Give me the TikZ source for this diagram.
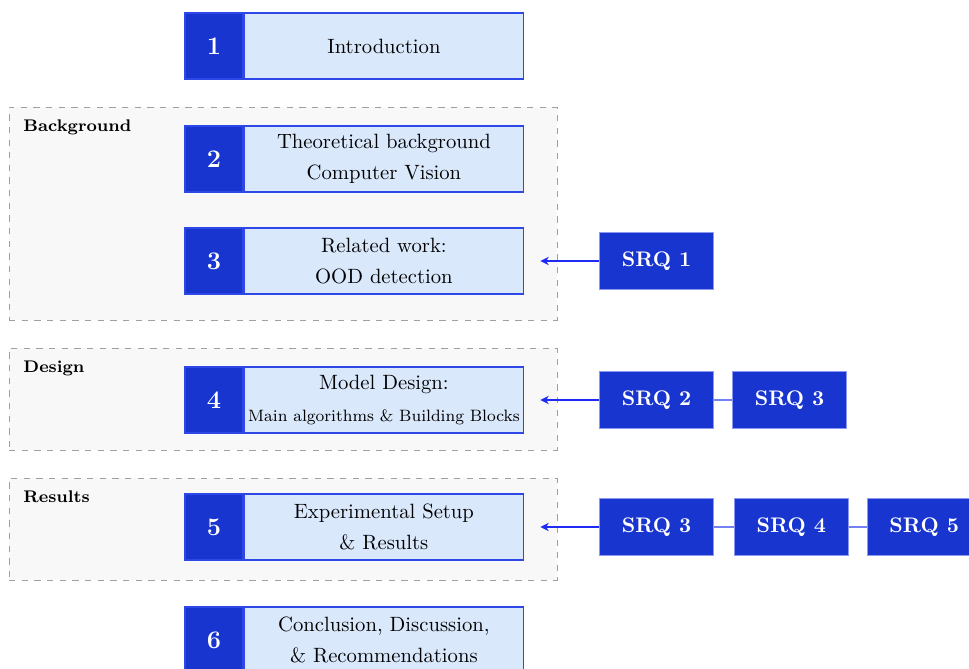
\documentclass[tikz,border=0pt]{standalone}
\usepackage{xcolor}
\usetikzlibrary{positioning,arrows.meta,fit}

\definecolor{chapblue}{HTML}{1835D0}
\definecolor{chapfill}{HTML}{DAE8FC}
\definecolor{chapedge}{HTML}{2D48E6}
\definecolor{srqedge}{HTML}{8C98F2}
\definecolor{linkblue}{HTML}{7382F0}
\definecolor{arrowblue}{HTML}{1F2BF5}
\definecolor{groupfill}{HTML}{F8F8F8}
\definecolor{groupedge}{HTML}{A0A0A0}

\begin{document}
\begin{tikzpicture}[
  x=0.016667cm, y=-0.016667cm,
  >={Stealth[length=4pt,width=4pt]},
  node distance=0.3cm,
  num/.style={draw=chapedge, fill=chapblue, text=white, font=\large\bfseries, minimum width=0.967cm, minimum height=1.1cm, inner sep=0pt, line width=0.6pt},
  chap/.style={draw=chapedge, fill=chapfill, line width=0.7pt, minimum width=4.65cm, minimum height=1.1cm, inner sep=0pt, align=center, font=\fontsize{9.8}{15}\selectfont},
  srq/.style={draw=srqedge, fill=chapblue, text=white, font=\bfseries, minimum width=1.9cm, minimum height=0.95cm, inner sep=0pt, line width=0.4pt},
  group/.style={draw=groupedge, dashed, fill=groupfill, line width=0.4pt, inner sep=0pt},
  grouplabel/.style={anchor=west, font=\footnotesize\bfseries, inner sep=0pt},
  feed/.style={->, draw=arrowblue, line width=0.5pt},
  link/.style={draw=linkblue, line width=0.8pt},
]
\clip (0,0) rectangle (969,669);

% groups
\node[group, fit={(9,107) (557,320)}] (bggroup) {};
\node[group, fit={(9,348) (557,450)}] (dsgroup) {};
\node[group, fit={(9,478) (557,580)}] (resgroup) {};
\node[grouplabel] (bglabel) at (23,127) {Background};
\node[grouplabel] (dslabel) at (23,368) {Design};
\node[grouplabel] (reslabel) at (23,497) {Results};

% chapters
\node[num] (n1) at (214,46) {1};
\node[chap, right=0pt of n1] (c1) {Introduction};
\node[num] (n2) at (214,159) {2};
\node[chap, right=0pt of n2] (c2) {Theoretical background\\Computer Vision};
\node[num] (n3) at (214,261) {3};
\node[chap, right=0pt of n3] (c3) {Related work:\\OOD detection};
\node[num] (n4) at (214,400) {4};
\node[chap, right=0pt of n4] (c4) {Model Design:\\{\fontsize{7.8}{15}\selectfont Main algorithms \& Building Blocks}};
\node[num] (n5) at (214,527) {5};
\node[chap, right=0pt of n5] (c5) {Experimental Setup\\\& Results};
\node[num] (n6) at (214,640) {6};
\node[chap, right=0pt of n6] (c6) {Conclusion, Discussion,\\\& Recommendations};

% sub research questions
\node[srq, right=1.25cm of c3] (q1) {SRQ 1};
\node[srq, right=1.25cm of c4] (q2) {SRQ 2};
\node[srq, right=of q2] (q3a) {SRQ 3};
\node[srq, right=1.25cm of c5] (q3b) {SRQ 3};
\node[srq, right=0.33cm of q3b] (q4) {SRQ 4};
\node[srq, right=of q4] (q5) {SRQ 5};

\coordinate[right=0.27cm of c3] (t3);
\coordinate[right=0.27cm of c4] (t4);
\coordinate[right=0.27cm of c5] (t5);

\draw[feed] (q1) -- (t3);
\draw[feed] (q2) -- (t4);
\draw[feed] (q3b) -- (t5);
\draw[link] (q2) -- (q3a);
\draw[link] (q3b) -- (q4);
\draw[link] (q4) -- (q5);
\end{tikzpicture}
\end{document}
